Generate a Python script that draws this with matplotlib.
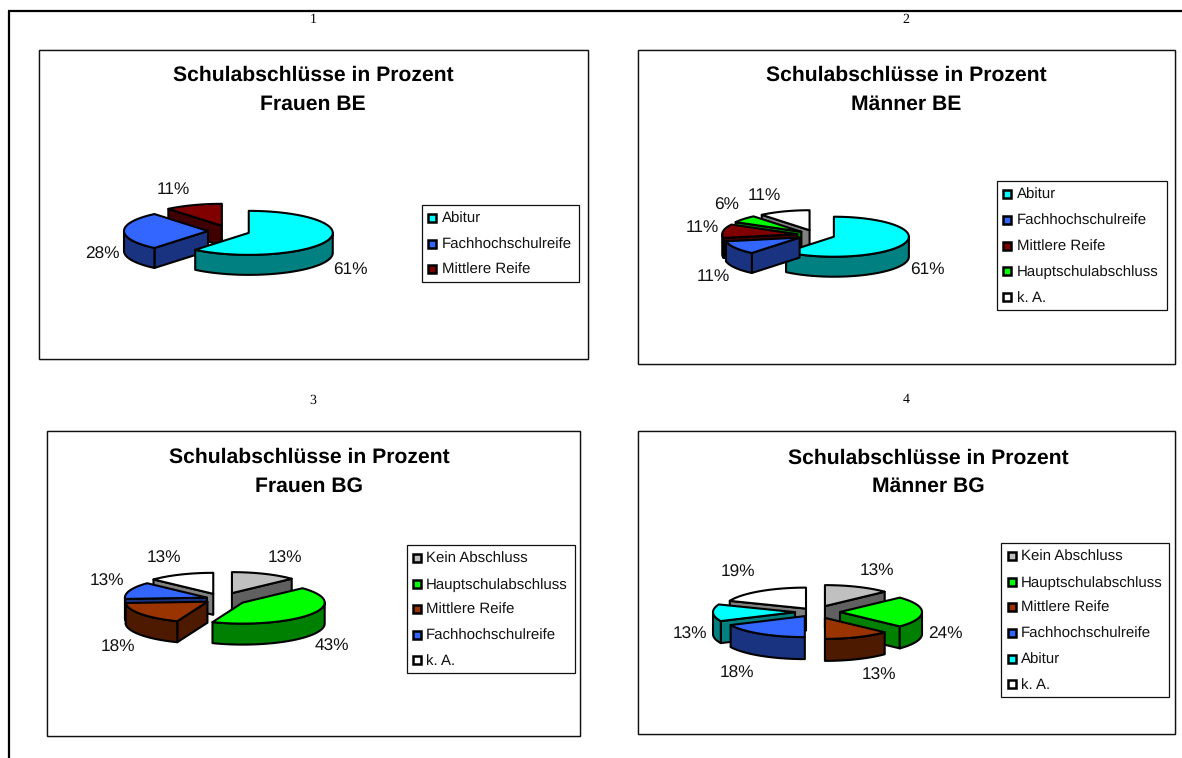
import numpy as np
import matplotlib
matplotlib.use("Agg")
import matplotlib.pyplot as plt
from matplotlib.patches import Polygon, Rectangle

plt.rcParams['font.family'] = ['Liberation Sans', 'DejaVu Sans']
plt.rcParams['text.hinting'] = 'no_hinting'

# Anteile in Prozent je Diagramm
labels_1 = ["Abitur", "Fachhochschulreife", "Mittlere Reife"]
values_1 = [61, 28, 11]
labels_2 = ["Abitur", "Fachhochschulreife", "Mittlere Reife", "Hauptschulabschluss", "k. A."]
values_2 = [61, 11, 11, 6, 11]
labels_3 = ["Kein Abschluss", "Hauptschulabschluss", "Mittlere Reife", "Fachhochschulreife", "k. A."]
values_3 = [13, 43, 18, 13, 13]
labels_4 = ["Kein Abschluss", "Hauptschulabschluss", "Mittlere Reife", "Fachhochschulreife", "Abitur", "k. A."]
values_4 = [13, 24, 13, 18, 13, 19]

titles = ["Frauen BE", "Männer BE", "Frauen BG", "Männer BG"]

colors = {
    "Abitur": "#00ffff",
    "Fachhochschulreife": "#3366ff",
    "Mittlere Reife": "#800000",
    "Hauptschulabschluss": "#00ff00",
    "Kein Abschluss": "#c0c0c0",
    "k. A.": "#ffffff",
}
# in den BG-Diagrammen ist Mittlere Reife braun statt dunkelrot
brown = "#993300"


def shade(color):
    r, g, b = matplotlib.colors.to_rgb(color)
    return (r / 2, g / 2, b / 2)


def face(ax, pts, color, z):
    ax.add_patch(Polygon(pts, closed=True, facecolor=color, edgecolor="black",
                         linewidth=1.5, joinstyle="round", zorder=z))


def pie3d(ax, values, slice_colors, center, rx, ry, depth, explode):
    total = sum(values)
    edges = np.concatenate([[0], np.cumsum(values)]) / total * 2 * np.pi
    slices = []
    for i in range(len(values)):
        t1, t2 = edges[i], edges[i + 1]
        mid = (t1 + t2) / 2
        ox = center[0] + explode[i] * np.sin(mid)
        oy = center[1] - explode[i] * ry / rx * np.cos(mid)
        # hintere Stuecke zuerst zeichnen
        key = oy - 0.6 * ry * np.cos(mid)
        slices.append((key, t1, t2, ox, oy, slice_colors[i]))
    slices.sort(key=lambda s: s[0])

    z = 3
    for key, t1, t2, ox, oy, col in slices:
        def point(t):
            return (ox + rx * np.sin(t), oy - ry * np.cos(t))

        dark = shade(col)
        # Schnittflaechen, nur wenn sie nach vorne zeigen
        for t, visible in ((t1, np.sin(t1) < -1e-6), (t2, np.sin(t2) > 1e-6)):
            if visible:
                px, py = point(t)
                face(ax, [(ox, oy), (px, py), (px, py + depth), (ox, oy + depth)], dark, z)
                z += 1
        # Aussenwand, vorderer Teil der Ellipse
        a = max(t1, np.pi / 2)
        b = min(t2, 3 * np.pi / 2)
        if b > a:
            ts = np.linspace(a, b, 60)
            xs = ox + rx * np.sin(ts)
            ys = oy - ry * np.cos(ts)
            wall = list(zip(xs, ys)) + list(zip(xs[::-1], ys[::-1] + depth))
            face(ax, wall, dark, z)
            z += 1
        # Deckflaeche
        ts = np.linspace(t1, t2, 80)
        top = [(ox, oy)] + list(zip(ox + rx * np.sin(ts), oy - ry * np.cos(ts)))
        face(ax, top, col, z)
        z += 1


def frame(ax, x0, y0, x1, y1, lw=1.0):
    # leichter grauer Schatten unter der dunklen Linie
    ax.add_patch(Rectangle((x0 + 0.6, y0 + 0.6), x1 - x0, y1 - y0, facecolor="none",
                           edgecolor="#999999", linewidth=lw, zorder=1))
    ax.add_patch(Rectangle((x0, y0), x1 - x0, y1 - y0, facecolor="white",
                           edgecolor="#111111", linewidth=lw, zorder=1.1))


def legend_box(ax, box, rows, swatch_x, text_x, names, slice_colors):
    frame(ax, *box, lw=0.9)
    for y, name, col in zip(rows, names, slice_colors):
        ax.add_patch(Rectangle((swatch_x - 4.2, y - 4.2), 8.4, 8.4, facecolor=col,
                               edgecolor="black", linewidth=1.8, zorder=3))
        ax.text(text_x, y + 5, name, fontsize=10.8, va="baseline", ha="left", color="#111111", zorder=4)


def chart(ax, number, number_pos, box, title_x, title_ys, title, names, values, slice_colors,
          pie_args, label_pos, leg_box, leg_rows, swatch_x, text_x):
    ax.text(number_pos[0], number_pos[1], number, fontsize=10, family="Liberation Serif",
            ha="center", va="center")
    frame(ax, *box)
    ax.text(title_x, title_ys[0] + 6, "Schulabschlüsse in Prozent", fontsize=15.2, fontweight="bold",
            ha="center", va="baseline", zorder=4)
    ax.text(title_x, title_ys[1] + 6, title, fontsize=15.2, fontweight="bold",
            ha="center", va="baseline", zorder=4)
    pie3d(ax, values, slice_colors, **pie_args)
    for v, pos in zip(values, label_pos):
        ax.text(pos[0], pos[1], f"{v}%", fontsize=12.4, ha="center", va="center",
                color="#111111", zorder=100)
    legend_box(ax, leg_box, leg_rows, swatch_x, text_x, names, slice_colors)


fig = plt.figure(figsize=(11.82, 7.58), dpi=100)
ax = fig.add_axes([0, 0, 1, 1])
ax.set_xlim(0, 1182)
ax.set_ylim(758, 0)
ax.axis("off")

# Rahmen der Seite, nach rechts und unten offen
ax.plot([9, 9], [758, 10.5], color="black", linewidth=1.6, zorder=0.5, solid_capstyle="butt")
ax.plot([8.4, 1182], [10.5, 10.5], color="black", linewidth=1.6, zorder=0.5, solid_capstyle="butt")

cols_1 = [colors[n] for n in labels_1]
cols_2 = [colors[n] for n in labels_2]
cols_3 = [brown if n == "Mittlere Reife" else colors[n] for n in labels_3]
cols_4 = [brown if n == "Mittlere Reife" else colors[n] for n in labels_4]

chart(ax, "1", (313, 20), (38.5, 49.5, 587.5, 358.5), 313, (75, 104), titles[0], labels_1, values_1, cols_1,
      dict(center=(229, 231), rx=84, ry=22, depth=20, explode=[21, 21, 21]),
      [(350, 270), (102, 254), (173, 190)],
      (422, 205, 579, 282), [218, 244, 269], 432, 442)

chart(ax, "2", (906, 20), (637.5, 49.5, 1174.5, 363.5), 906, (75, 104), titles[1], labels_2, values_2, cols_2,
      dict(center=(816, 235), rx=75, ry=20, depth=20, explode=[19, 19, 19, 19, 19]),
      [(927, 270), (713, 277), (702, 228), (727, 205), (764, 196)],
      (997, 181, 1167, 310), [194, 220, 246, 271, 297], 1007, 1017)

chart(ax, "3", (313, 400), (46.5, 430.5, 579.5, 735.5), 309, (457, 486), titles[2], labels_3, values_3, cols_3,
      dict(center=(222, 599), rx=82, ry=21, depth=21, explode=[25, 25, 18, 16, 22]),
      [(285, 558), (332, 646), (118, 647), (107, 581), (164, 558)],
      (407, 545, 575, 673), [558, 584, 609, 635, 660], 417, 426)

chart(ax, "4", (906, 400), (637.5, 430.5, 1174.5, 733.5), 928, (458, 486), titles[3], labels_4, values_4, cols_4,
      dict(center=(815, 612), rx=82, ry=21, depth=22, explode=[25, 25, 25, 19, 20, 16]),
      [(877, 571), (945, 634), (879, 675), (737, 673), (690, 634), (738, 572)],
      (1001, 543, 1169, 697), [556, 582, 607, 633, 659, 684], 1012, 1021)

fig.savefig("out.png", dpi=100)
